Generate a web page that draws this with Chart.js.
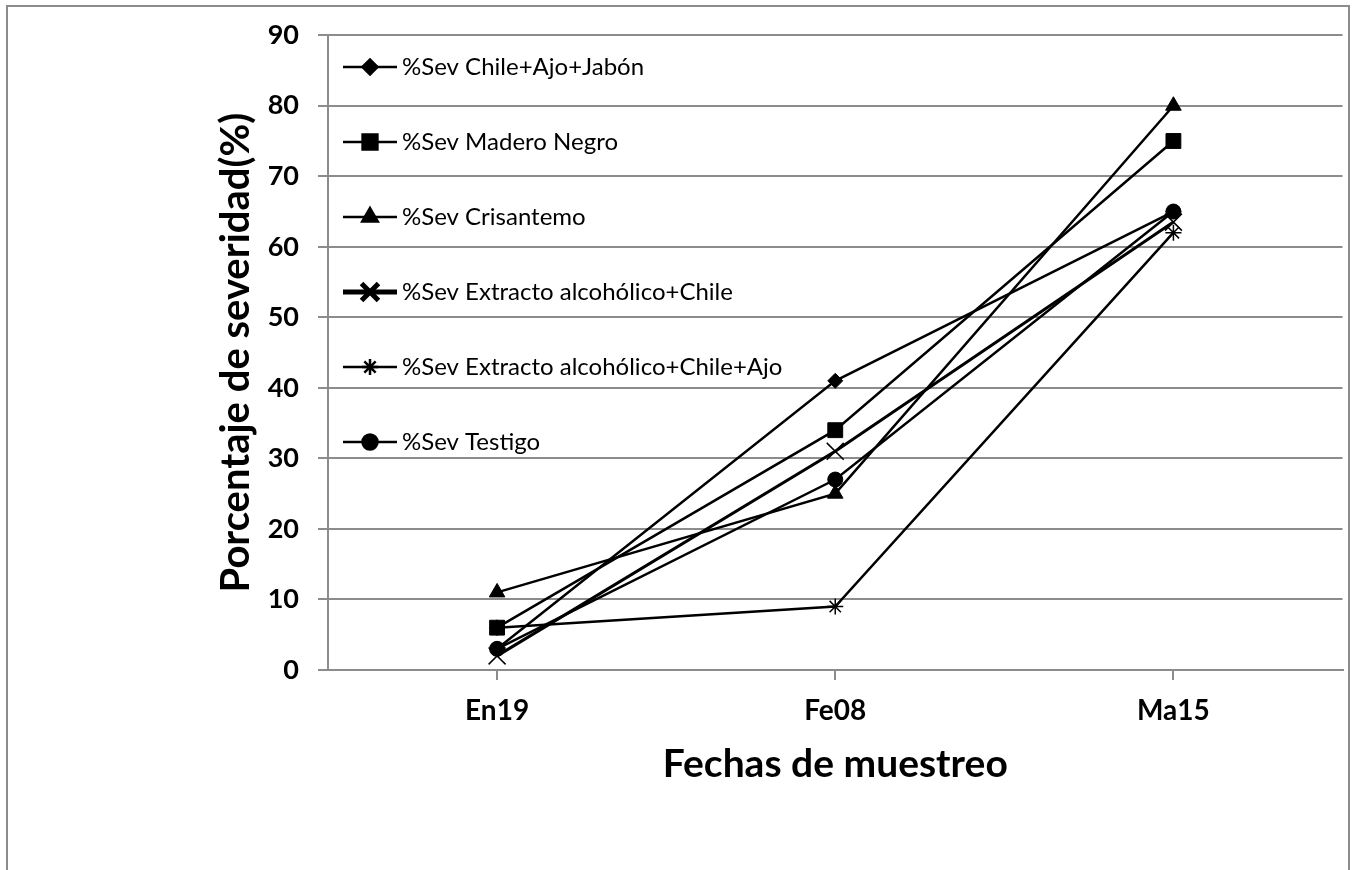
<!DOCTYPE html>
<html>
<head>
<meta charset="utf-8">
<script src="https://cdn.jsdelivr.net/npm/chart.js@4.4.0/dist/chart.umd.min.js"></script>
<style>
  body { margin: 0; background: #fff; }
  #wrap { width: 1356px; height: 870px; position: relative; }
</style>
</head>
<body>
<div id="wrap"><canvas id="sev" width="1356" height="870"></canvas></div>
<script>
// fechas de muestreo
const fechas = ["En19", "Fe08", "Ma15"];

// % de severidad por tratamiento
const chileAjoJabon = [3, 41, 65];
const maderoNegro = [6, 34, 75];
const crisantemo = [11, 25, 80];
const extractoChile = [2, 31, 63.5];
const extractoChileAjo = [6, 9, 62];
const testigo = [3, 27, 65];

const nombres = [
  "%Sev Chile+Ajo+Jabón",
  "%Sev Madero Negro",
  "%Sev Crisantemo",
  "%Sev Extracto alcohólico+Chile",
  "%Sev Extracto alcohólico+Chile+Ajo",
  "%Sev Testigo",
];

const gris = "#8c8c8c";

function serie(label, data, style, radius, width, legendWidth) {
  return {
    label: label,
    data: data,
    borderColor: "#000",
    backgroundColor: "#000",
    borderWidth: width,
    pointStyle: style,
    pointRadius: radius,
    pointBorderWidth: style === "crossRot" || style === "star" ? 1.5 : 1,
    pointBackgroundColor: "#000",
    pointBorderColor: "#000",
    legendWidth: legendWidth,
    tension: 0,
  };
}

// leyenda dentro del area de la grafica (linea + marcador)
const leyenda = {
  id: "leyenda",
  afterDraw(chart) {
    const ctx = chart.ctx;
    ctx.save();
    chart.data.datasets.forEach((ds, i) => {
      const y = 67 + i * 75;
      ctx.strokeStyle = "#000";
      ctx.fillStyle = "#000";
      ctx.lineWidth = ds.legendWidth;
      ctx.beginPath();
      ctx.moveTo(343, y);
      ctx.lineTo(397, y);
      ctx.stroke();
      Chart.helpers.drawPoint(ctx, {
        pointStyle: ds.pointStyle,
        radius: ds.pointRadius,
        rotation: 0,
        borderWidth: ds.pointBorderWidth,
      }, 370, y);
      ctx.font = "24px Lato";
      ctx.textAlign = "left";
      ctx.textBaseline = "middle";
      ctx.fillText(ds.label, 402, y);
    });
    ctx.restore();
  },
};

// marco exterior gris
const marco = {
  id: "marco",
  beforeDraw(chart) {
    const ctx = chart.ctx;
    ctx.save();
    ctx.strokeStyle = gris;
    ctx.lineWidth = 2;
    ctx.strokeRect(7, 6, 1342, 900);
    ctx.restore();
  },
};

const ctx = document.getElementById("sev").getContext("2d");

new Chart(ctx, {
  type: "line",
  data: {
    labels: fechas,
    datasets: [
      serie(nombres[0], chileAjoJabon, "rectRot", 7.5, 2.5, 2.5),
      serie(nombres[1], maderoNegro, "rect", 10.5, 2.5, 2.5),
      serie(nombres[2], crisantemo, "triangle", 9, 2.5, 2.5),
      serie(nombres[3], extractoChile, "crossRot", 12, 3, 5),
      serie(nombres[4], extractoChileAjo, "star", 8, 2.5, 2.5),
      serie(nombres[5], testigo, "circle", 7.5, 2.5, 2.5),
    ],
  },
  options: {
    responsive: false,
    animation: false,
    layout: { padding: { top: 30, right: 13, left: 0, bottom: 0 } },
    plugins: {
      legend: { display: false },
      tooltip: { enabled: false },
    },
    scales: {
      x: {
        offset: true,
        afterFit: (s) => { s.height = 200; },
        grid: {
          drawOnChartArea: false,
          drawTicks: true,
          tickLength: 10,
          color: gris,
          lineWidth: 2,
        },
        border: { display: true, color: gris, width: 2 },
        ticks: {
          color: "#000",
          padding: 14,
          font: { family: "Lato", size: 28, weight: "bold" },
        },
        title: {
          display: true,
          text: "Fechas de muestreo",
          color: "#000",
          padding: { top: 0, bottom: 82 },
          font: { family: "Lato", size: 39, weight: "bold" },
        },
      },
      y: {
        min: 0,
        max: 90,
        afterFit: (s) => { s.width = 328; },
        grid: {
          color: gris,
          lineWidth: 2,
          drawTicks: true,
          tickLength: 10,
        },
        border: { display: true, color: gris, width: 2 },
        ticks: {
          stepSize: 10,
          color: "#000",
          padding: 19,
          font: { family: "Lato", size: 27, weight: "bold" },
        },
        title: {
          display: true,
          text: "Porcentaje de severidad(%)",
          color: "#000",
          padding: { top: 212, bottom: 0 },
          font: { family: "Lato", size: 40, weight: "bold" },
        },
      },
    },
  },
  plugins: [marco, leyenda],
});
</script>
</body>
</html>
